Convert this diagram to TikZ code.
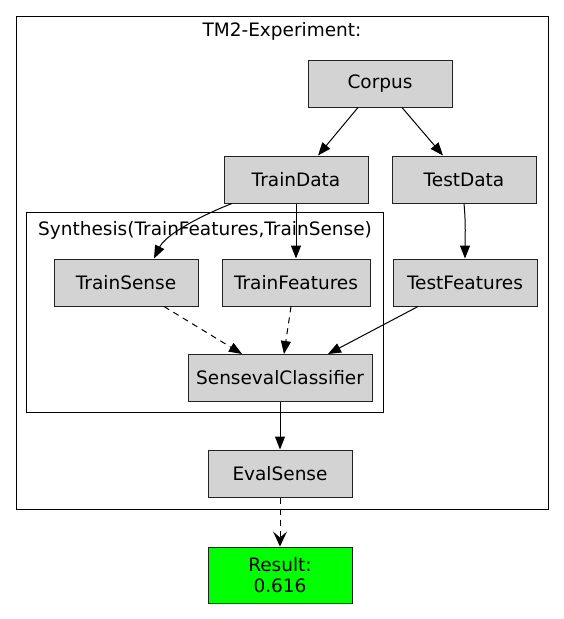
\documentclass[tikz,border=0pt]{standalone}
\usepackage{fontspec}
\setmainfont{DejaVu Sans}
\usepackage{xcolor}
\usetikzlibrary{arrows.meta, positioning, calc}
\definecolor{clrBoxFill}{HTML}{D3D3D3}
\definecolor{clrBoxLine}{HTML}{222222}
\definecolor{clrResult}{HTML}{00FF00}
\tikzset{
  task box/.style={rectangle, draw=clrBoxLine, fill=clrBoxFill, line width=1pt, minimum width=144pt, minimum height=47pt, inner sep=0pt, font=\fontsize{18.5}{21}\selectfont, align=center},
  result box/.style={task box, fill=clrResult, minimum height=56pt},
  cluster/.style={draw=black, line width=1pt},
  cluster label/.style={font=\fontsize{18.5}{21}\selectfont, inner sep=0pt},
  arr/.style={-{Triangle[length=13pt, width=10pt]}, line width=1pt},
  darr/.style={arr, dash pattern=on 6pt off 5pt},
  varr/.style={-{Stealth[length=15pt, width=14pt, inset=6pt, line width=0pt]}, line width=1pt, dash pattern=on 6pt off 5pt},
}
\begin{document}
\begin{tikzpicture}[x=1pt, y=-1pt]
  \useasboundingbox (0,0) rectangle (564,619);

  % Clusters
  \draw[cluster] (16,16) rectangle (548,509);
  \node[cluster label] (expLabel) at (282,31) {TM2-Experiment:};
  \draw[cluster] (26,212) rectangle (383,412);
  \node[cluster label] (synLabel) at (205,230) {Synthesis(TrainFeatures,TrainSense)};

  % Tasks
  \node[task box] (corpus) at (380,83.5) {Corpus};
  \node[task box] (trainData) at (296,179.5) {TrainData};
  \node[task box] (testData) at (464,179.5) {TestData};
  \node[task box] (trainSense) at (126,282.5) {TrainSense};
  \node[task box, minimum width=148pt] (trainFeat) at (296,282.5) {TrainFeatures};
  \node[task box] (testFeat) at (465,282.5) {TestFeatures};
  \node[task box, minimum width=184pt] (classifier) at (280,378) {SensevalClassifier};
  \node[task box] (evalSense) at (280,473.5) {EvalSense};
  \node[result box] (result) at (280,575) {Result:\\0.616};

  % Data flow
  \draw[arr] ($(corpus.south)+(-22,0)$) -- ($(trainData.north)+(22,0)$);
  \draw[arr] ($(corpus.south)+(22,0)$) -- ($(testData.north)+(-21,0)$);
  \draw[arr] ($(trainData.south)+(-64,0)$) .. controls (195,218) and (165,236) .. ($(trainSense.north)+(28,0)$);
  \draw[arr] (trainData.south) -- (trainFeat.north);
  \draw[arr] (testData.south) .. controls (466,225) and (465,240) .. (testFeat.north);
  \draw[darr] ($(trainSense.south)+(38,0)$) -- ($(classifier.north)+(-38,0)$);
  \draw[darr] ($(trainFeat.south)+(-5,0)$) -- ($(classifier.north)+(4,0)$);
  \draw[arr] ($(testFeat.south)+(-47,0)$) -- ($(classifier.north)+(48,0)$);
  \draw[arr] (classifier.south) -- (evalSense.north);
  \draw[varr] (evalSense.south) -- (result.north);
\end{tikzpicture}
\end{document}
